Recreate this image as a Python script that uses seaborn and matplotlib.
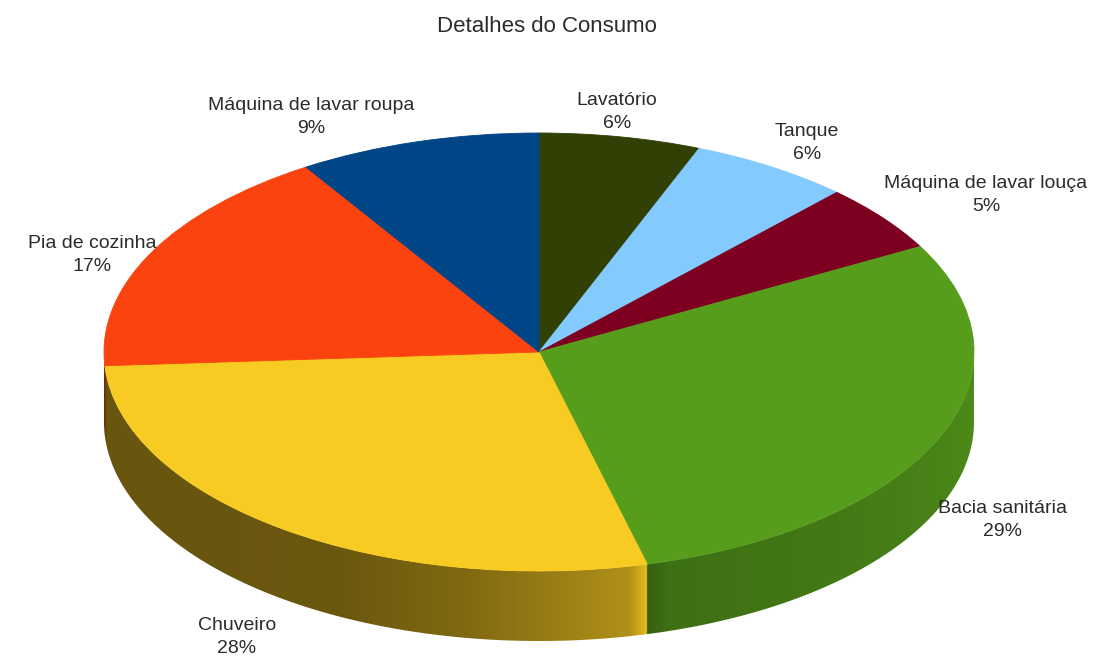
import numpy as np
import matplotlib
matplotlib.use("Agg")
import matplotlib.pyplot as plt
from matplotlib.patches import Polygon
from matplotlib.colors import to_rgb
import seaborn as sns

# --- data -------------------------------------------------------------
categories = [
    "Lavatório",
    "Tanque",
    "Máquina de lavar louça",
    "Bacia sanitária",
    "Chuveiro",
    "Pia de cozinha",
    "Máquina de lavar roupa",
]
shares = [6, 6, 5, 29, 28, 17, 9]
chart_title = "Detalhes do Consumo"

# --- style ------------------------------------------------------------
slice_colors = sns.color_palette(
    ["#314004", "#83caff", "#7e0021", "#579d1c", "#f8cb22", "#fb430f", "#004586"]
)
# label block centres (figure pixels from top-left)
label_pos = [(617, 112), (807, 143), (986, 195), (1003, 520),
             (237, 637), (92, 255), (311, 117)]

sns.set_theme(style="white")
plt.rcParams["font.family"] = ["Liberation Sans", "DejaVu Sans"]

W, H = 1101, 657
cx, cy = 539, 352          # centre of the top face (pixels)
rx, ry = 435, 219          # radii of the top face (pixels)
depth = 70                 # thickness of the disc (pixels)

fig = plt.figure(figsize=(W / 100, H / 100), dpi=100)
fig.patch.set_facecolor("white")
ax = fig.add_axes([0, 0, 1, 1])

# top face: a unit pie squashed into an ellipse by the axis limits
wedges, _ = ax.pie(
    shares,
    colors=slice_colors,
    startangle=90,
    counterclock=False,
    radius=1,
    center=(0, 0),
    wedgeprops=dict(linewidth=0.6, zorder=3),
)
for w, c in zip(wedges, slice_colors):
    w.set_edgecolor(c)

# --- side wall: one shaded image clipped to the front half of the rim ---
d = depth / ry
frac = np.array(shares, dtype=float) / sum(shares)
cum = np.concatenate([[0], np.cumsum(frac)])
t_starts = 90 - 360 * cum[:-1]     # clockwise start angle of each slice
t_ends = 90 - 360 * cum[1:]        # clockwise end angle of each slice

ncol = 2400
xs = np.linspace(-1, 1, ncol)
theta = -np.degrees(np.arccos(xs))          # front half: -180 .. 0
u = (theta + 180.0) / 180.0
shade = np.interp(u, [0, 0.35, 0.45, 0.56, 0.75, 1.0],
                  [0.42, 0.43, 0.52, 0.70, 0.78, 0.90])

row = np.ones((ncol, 3))
for i, base in enumerate(slice_colors):
    # slice i covers theta in [t_end, t_start] (shifted to the -180..0 range)
    for k in (-360, 0, 360):
        hi, lo = t_starts[i] + k, t_ends[i] + k
        sel = (theta <= hi) & (theta >= lo)
        if not sel.any():
            continue
        f = shade[sel].copy()
        m = theta[sel]
        # bright rim at the slice start, darker rim at the slice end
        if hi < 0:
            f += 0.22 * np.clip(1 - (hi - m) / 2.5, 0, 1)
        if lo > -180:
            f -= 0.10 * np.clip(1 - (m - lo) / 3.0, 0, 1)
        row[sel] = np.clip(np.outer(f, np.array(to_rgb(base))), 0, 1)

img = np.repeat(row[None, :, :], 2, axis=0)
im = ax.imshow(img, extent=(-1, 1, -1 - d, 0), origin="lower",
               interpolation="bilinear", aspect="auto", zorder=1)

ang = np.radians(np.linspace(-180, 0, 400))
rim = np.column_stack([np.cos(ang), np.sin(ang)])
outline = np.vstack([rim, (rim - [0, d])[::-1]])
clip = Polygon(outline, closed=True, transform=ax.transData,
               facecolor="none", edgecolor="none")
ax.add_patch(clip)
im.set_clip_path(clip)

ax.set_aspect("auto")
ax.set_xlim(-cx / rx, (W - cx) / rx)
ax.set_ylim((cy - H) / ry, cy / ry)
ax.axis("off")

# labels
for name, share, (px, py) in zip(categories, shares, label_pos):
    fig.text(px / W, 1 - py / H, f"{name}\n{share}%", ha="center",
             va="center", fontsize=14, color="#2b2b2b", linespacing=1.4)

fig.text(547 / W, 1 - 26 / H, chart_title, ha="center", va="center",
         fontsize=16, color="#2b2b2b")

fig.savefig("out.png", dpi=100, facecolor="white")
